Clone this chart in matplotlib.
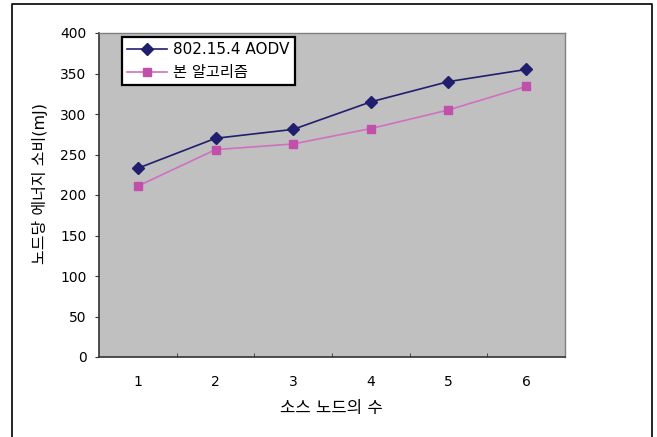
import matplotlib
matplotlib.use("Agg")
import matplotlib.pyplot as plt
from matplotlib.lines import Line2D

plt.rcParams['font.family'] = ['DejaVu Sans', 'Noto Sans CJK KR']

# data
sources = [1, 2, 3, 4, 5, 6]
aodv = [233, 270, 281, 315, 340, 355]
proposed = [211, 256, 263, 282, 305, 334]
series_names = ["802.15.4 AODV", "본 알고리즘"]
y_ticks = [0, 50, 100, 150, 200, 250, 300, 350, 400]

W, H = 657, 437
fig = plt.figure(figsize=(W / 100, H / 100), dpi=100)

# outer chart border (bottom edge is cut off in the reference)
fig.add_artist(Line2D([12 / W, 12 / W, 652 / W, 652 / W],
                      [0, 1 - 4 / H, 1 - 4 / H, 0],
                      transform=fig.transFigure, color='black', lw=1.2))

ax = fig.add_axes([99 / W, 1 - 357 / H, 466 / W, 324 / H])
ax.set_facecolor('#c0c0c0')

ax.plot(sources, aodv, color='#1f1f6e', lw=1.2, marker='D', ms=6,
        mfc='#1f1f6e', mec='#1f1f6e', label=series_names[0])
ax.plot(sources, proposed, color='#d070c0', lw=1.2, marker='s', ms=6,
        mfc='#c050aa', mec='#c050aa', label=series_names[1])

ax.set_xlim(0.5, 6.5)
ax.set_ylim(0, 400)
ax.set_yticks(y_ticks)
ax.set_xticks(sources)
ax.set_xticks([1.5, 2.5, 3.5, 4.5, 5.5], minor=True)
ax.tick_params(axis='x', which='major', length=0, pad=13, labelsize=10)
ax.tick_params(axis='x', which='minor', length=3, direction='in', color='#333333')
ax.tick_params(axis='y', length=3, direction='out', pad=6, labelsize=10, color='#333333')

for side in ['left', 'bottom']:
    ax.spines[side].set_color('#333333')
    ax.spines[side].set_linewidth(1.2)
for side in ['top', 'right']:
    ax.spines[side].set_color('#808080')
    ax.spines[side].set_linewidth(1.0)

fig.text(331 / W, 1 - 408 / H, "소스 노드의 수", ha='center', va='center', fontsize=12)
fig.text(40 / W, 1 - 183 / H, "노드당 에너지 소비(mJ)", ha='center', va='center',
         rotation=90, fontsize=11.5)

leg = ax.legend(loc='upper left', bbox_to_anchor=(122 / W, 1 - 37 / H),
                bbox_transform=fig.transFigure, fancybox=False, frameon=True,
                edgecolor='black', facecolor='white', framealpha=1,
                fontsize=11, handlelength=2.6, handletextpad=0.4,
                borderpad=0.35, labelspacing=0.5, borderaxespad=0)
leg.get_frame().set_linewidth(1.6)

fig.savefig("out.png", dpi=100)
